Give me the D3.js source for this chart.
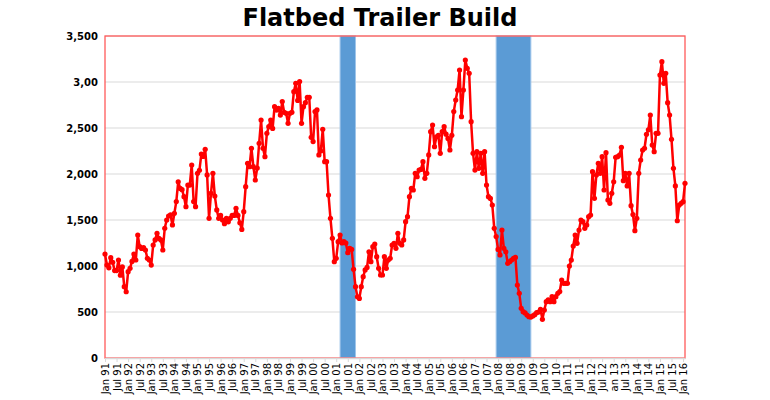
<!DOCTYPE html>
<html>
<head>
<meta charset="utf-8">
<script src="https://cdn.jsdelivr.net/npm/d3@7"></script>
<style>
  html, body { margin: 0; padding: 0; background: #ffffff; }
  svg { display: block; }
</style>
</head>
<body>
<svg id="chart" width="770" height="400"></svg>
<script>
// ---- DATA ----
const title = "Flatbed Trailer Build";
const build1991 = [1130, 1010, 980, 1090, 1040, 950, 950, 1065, 900, 990, 775, 720];
const build1992 = [938, 975, 1050, 1130, 1065, 1337, 1210, 1190, 1200, 1174, 1083, 1065];
const build1993 = [1010, 1228, 1283, 1355, 1300, 1283, 1174, 1410, 1500, 1543, 1555, 1446];
const build1994 = [1573, 1700, 1916, 1843, 1830, 1753, 1645, 1880, 1880, 2098, 1700, 1645];
const build1995 = [2007, 2040, 2217, 2190, 2268, 1990, 1518, 1790, 2008, 1760, 1610, 1518];
const build1996 = [1550, 1500, 1460, 1518, 1480, 1518, 1550, 1550, 1627, 1550, 1470, 1398];
const build1997 = [1590, 1862, 2116, 2080, 2280, 2080, 1935, 2065, 2334, 2587, 2280, 2188];
const build1998 = [2442, 2514, 2587, 2495, 2732, 2695, 2714, 2640, 2787, 2670, 2660, 2551];
const build1999 = [2660, 2670, 2895, 2986, 2800, 3005, 2551, 2732, 2775, 2833, 2833, 2399];
const build2000 = [2352, 2678, 2696, 2207, 2250, 2486, 2134, 2134, 1772, 1518, 1301, 1047];
const build2001 = [1083, 1264, 1337, 1250, 1264, 1250, 1145, 1192, 1180, 964, 775, 666];
const build2002 = [648, 775, 884, 957, 985, 1155, 1047, 1210, 1239, 1101, 975, 902];
const build2003 = [902, 1101, 975, 1065, 1083, 1228, 1246, 1192, 1355, 1246, 1228, 1283];
const build2004 = [1482, 1536, 1753, 1843, 1826, 2007, 1970, 2043, 2050, 2134, 1953, 2007];
const build2005 = [2207, 2460, 2532, 2297, 2405, 2420, 2225, 2460, 2514, 2433, 2387, 2261];
const build2006 = [2420, 2678, 2804, 2913, 3130, 2623, 2913, 3239, 3149, 3094, 2569, 2225];
const build2007 = [2043, 2243, 2062, 2225, 2007, 2243, 1880, 1753, 1735, 1663, 1410, 1320];
const build2008 = [1180, 1120, 1391, 1192, 1155, 1029, 1047, 1065, 1083, 1093, 793, 703];
const build2009 = [540, 503, 490, 467, 449, 445, 457, 471, 493, 500, 530, 420];
const build2010 = [522, 612, 631, 612, 667, 612, 667, 703, 722, 848, 812, 812];
const build2011 = [812, 1000, 1065, 1217, 1337, 1246, 1391, 1500, 1482, 1409, 1445, 1536];
const build2012 = [1554, 2025, 1736, 1989, 2116, 2007, 2188, 1826, 2232, 1717, 1681, 1790];
const build2013 = [1916, 2181, 2188, 2206, 2290, 1927, 2007, 1870, 2007, 1656, 1560, 1384];
const build2014 = [1518, 2007, 2152, 2261, 2280, 2432, 2480, 2641, 2315, 2243, 2442, 2442];
const build2015 = [3076, 3221, 2986, 3094, 2775, 2641, 2377, 2062, 1870, 1492, 1663, 1681];
const build2016 = [1699, 1899];

// recessions: month index since Jan 1991
const recessionStart = [122, 203];   // Mar 2001, Dec 2007
const recessionEnd   = [130, 221];   // Nov 2001, Jun 2009

const yTickValues = [0, 500, 1000, 1500, 2000, 2500, 3000, 3500];
const yTickLabels = ["0", "500", "1,000", "1,500", "2,000", "2,500", "3,00", "3,500"];

const xTickLabels = [
  "Jan 91","Jul 91","Jan 92","Jul 92","Jan 93","Jul 93","Jan 94","Jul 94","Jan 95","Jul 95",
  "Jan 96","Jul 96","Jan 97","Jul 97","Jan 98","Jul 98","Jan 99","Jul 99","Jan 00","Jul 00",
  "Jan 01","Jul 01","Jan 02","Jul 02","Jan 03","Jul 03","Jan 04","Jul 04","Jan 05","Jul 05",
  "Jan 06","Jul 06","Jan 07","Jul 07","Jan 08","Jul 08","Jan 09","Jul 09","Jan 10","Jul 10",
  "Jan 11","Jul 11","Jan 12","Jul 12","an 13","Jul 13","Jan 14","Jul 14","Jan 15","Jul 15",
  "Jan 16"
];
const xTickStep = 6; // months between labels

// ---- BUILD ----
const values = [].concat(build1991, build1992, build1993, build1994, build1995, build1996,
  build1997, build1998, build1999, build2000, build2001, build2002, build2003, build2004,
  build2005, build2006, build2007, build2008, build2009, build2010, build2011, build2012,
  build2013, build2014, build2015, build2016);
const data = values.map((v, i) => ({ i, v }));

const svg = d3.select("#chart");
const pL = 105, pR = 685, pT = 36, pB = 358;

const x = d3.scaleLinear().domain([0, values.length - 1]).range([pL, pR]);
const y = d3.scaleLinear().domain([0, 3500]).range([pB, pT]);

const font = "'DejaVu Sans', Verdana, sans-serif";

// Title
svg.append("text")
  .attr("x", 380).attr("y", 26)
  .attr("text-anchor", "middle")
  .style("font-family", font)
  .style("font-weight", "bold")
  .style("font-size", "24px")
  .attr("fill", "#000")
  .text(title);

// Gridlines
svg.append("g").selectAll("line")
  .data(yTickValues.filter(d => d > 0))
  .join("line")
  .attr("x1", pL).attr("x2", pR)
  .attr("y1", d => y(d)).attr("y2", d => y(d))
  .attr("stroke", "#d9d9d9").attr("stroke-width", 1);

// Recession bands
svg.append("g").selectAll("rect")
  .data(recessionStart.map((s, k) => ({ s, e: recessionEnd[k] })))
  .join("rect")
  .attr("x", d => x(d.s))
  .attr("width", d => x(d.e) - x(d.s))
  .attr("y", y(3500))
  .attr("height", y(0) - y(3500))
  .attr("fill", "#5b9bd5")
  .attr("stroke", "#9fc5ea")
  .attr("stroke-width", 1);

// Plot border (red)
svg.append("rect")
  .attr("x", pL).attr("y", pT)
  .attr("width", pR - pL).attr("height", pB - pT)
  .attr("fill", "none")
  .attr("stroke", "#ff5a5a").attr("stroke-width", 1.3);

// Y axis labels
const yAxis = d3.axisLeft(y)
  .tickValues(yTickValues)
  .tickFormat((d, k) => yTickLabels[k])
  .tickSize(0).tickPadding(7);
const yg = svg.append("g").attr("transform", `translate(${pL},0)`).call(yAxis);
yg.select(".domain").remove();
yg.selectAll("text")
  .style("font-family", font)
  .style("font-weight", "bold")
  .style("font-size", "10px")
  .attr("fill", "#000");

// X axis
const xTickIdx = xTickLabels.map((_, k) => k * xTickStep);
const xAxis = d3.axisBottom(x)
  .tickValues(xTickIdx)
  .tickFormat((d, k) => xTickLabels[k])
  .tickSize(4).tickSizeOuter(0);
const xg = svg.append("g").attr("transform", `translate(0,${pB})`).call(xAxis);
xg.select(".domain").attr("stroke", "#d9d9d9").attr("stroke-width", 1.5);
xg.selectAll(".tick line").attr("stroke", "#d9d9d9");
xg.selectAll("text")
  .attr("transform", "rotate(-90)")
  .attr("text-anchor", "end")
  .attr("x", -5).attr("y", 0).attr("dy", "0.35em")
  .style("font-family", font)
  .style("font-size", "10px")
  .attr("fill", "#000");

// Line
const line = d3.line().x(d => x(d.i)).y(d => y(d.v));
svg.append("path")
  .datum(data)
  .attr("d", line)
  .attr("fill", "none")
  .attr("stroke", "#ff0000")
  .attr("stroke-width", 2.5)
  .attr("stroke-linejoin", "round");

svg.append("g").selectAll("circle")
  .data(data)
  .join("circle")
  .attr("cx", d => x(d.i)).attr("cy", d => y(d.v))
  .attr("r", 2.6)
  .attr("fill", "#ff0000");
</script>
</body>
</html>
